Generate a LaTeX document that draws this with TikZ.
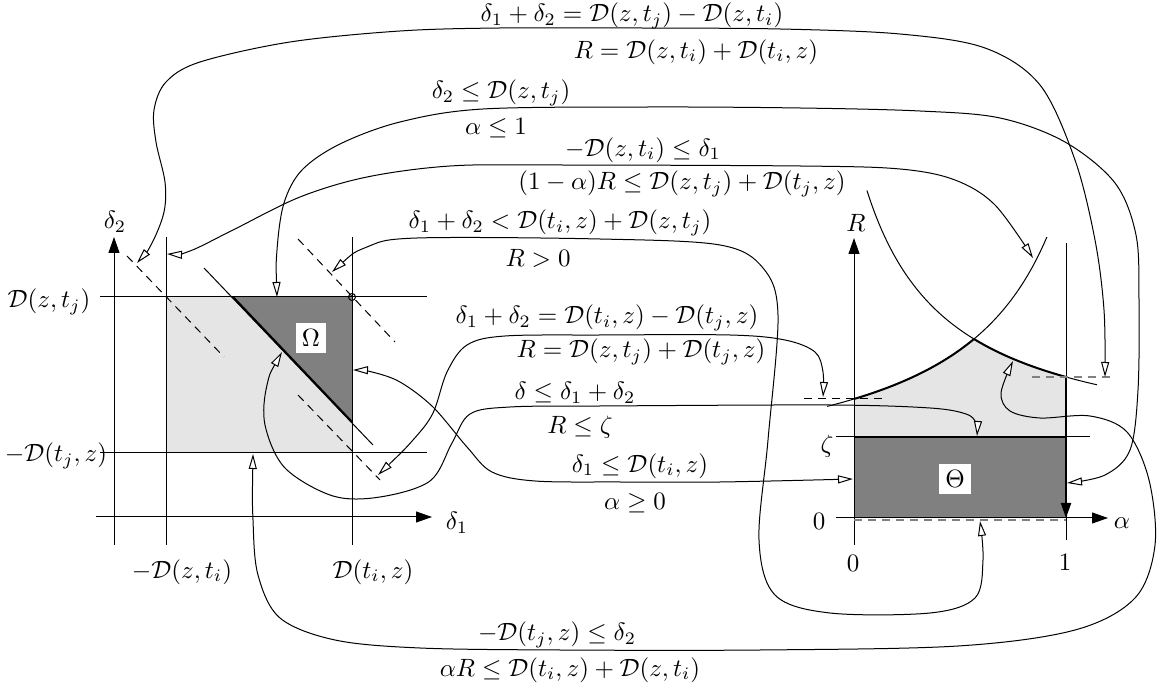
\documentclass[tikz,border=0pt]{standalone}
\usetikzlibrary{arrows.meta}
\begin{document}
\begin{tikzpicture}[x=0.4pt,y=-0.4pt,
  conn/.style={line width=0.4pt, {Triangle[fill=white,length=6pt,width=3.2pt]}-{Triangle[fill=white,length=6pt,width=3.2pt]}},
  axisl/.style={line width=0.4pt, -{Triangle[length=6.4pt,width=4.4pt]}},
  lbl/.style={inner sep=0pt},
  dsh/.style={dash pattern=on 3.2pt off 2.4pt, line width=0.4pt},
  thickl/.style={line width=0.8pt},
  wbox/.style={fill=white, inner sep=2.5pt}
]
\useasboundingbox (0,0) rectangle (1160,691);

% ---------- left plot ----------
\fill[gray!20] (166,297) rectangle (352,453);
\fill[gray] (233,297) -- (352,297) -- (352,422) -- cycle;
\draw (100,297) -- (427,297);
\draw (100,453) -- (427,453);
\draw (166,237) -- (166,545);
\draw (352,237) -- (352,545);
\draw[axisl] (114,545) -- (114,237);
\draw[axisl] (96,517) -- (432,517);
\draw (204,268) -- (373,445);
\draw[thickl] (233,297) -- (352,422);
\draw[dsh] (127,256) -- (224,357);
\draw[dsh] (298,239) -- (395,342);
\draw[dsh] (298,395) -- (380,480);
\draw (352,297) circle[radius=1.4pt];
\node[wbox] (omega) at (311,338) {$\Omega$};
\node[lbl] (d2) at (115,222) {$\delta_2$};
\node[lbl] (d1) at (457,523) {$\delta_1$};
\node[lbl] (yt) at (49,302) {$\mathcal{D}(z,t_j)$};
\node[lbl] (yb) at (56,456) {$-\mathcal{D}(t_j,z)$};
\node[lbl] (xl) at (182,572) {$-\mathcal{D}(z,t_i)$};
\node[lbl] (xr) at (373,572) {$\mathcal{D}(t_i,z)$};

% ---------- right plot ----------
\fill[gray!20] plot[domain=0:0.566, samples=40] ({854+212*\x}, {489.1-127.6/(1.416-\x)})
  -- plot[domain=0.566:1, samples=40] ({854+212*\x}, {456-105.6/(\x+0.3367)})
  -- (1066,437) -- (854,437) -- cycle;
\fill[gray] (854,437) rectangle (1066,518);
\draw plot[domain=-0.127:0.91, samples=80] ({854+212*\x}, {489.1-127.6/(1.416-\x)});
\draw plot[domain=0.061:1.146, samples=80] ({854+212*\x}, {456-105.6/(\x+0.3367)});
\draw[thickl] plot[domain=0:0.566, samples=40] ({854+212*\x}, {489.1-127.6/(1.416-\x)});
\draw[thickl] plot[domain=0.566:1, samples=40] ({854+212*\x}, {456-105.6/(\x+0.3367)});
\draw (1066,243) -- (1066,540);
\draw[line width=0.8pt, -{Triangle[length=6pt,width=4pt]}] (1066,377) -- (1066,518);
\draw (836,437) -- (1090,437);
\draw[thickl] (854,437) -- (1066,437);
\draw[axisl] (854,545) -- (854,238);
\draw[axisl] (836,518) -- (1108,518);
\draw[dsh, gray, line width=0.8pt] (854,520) -- (1066,520);
\draw[dsh] (804,399) -- (888,399);
\draw[dsh, gray, line width=0.8pt] (1032,377) -- (1115,377);
\node[wbox] (theta) at (955,479) {$\Theta$};
\node[lbl] (rl) at (856,223) {$R$};
\node[lbl] (al) at (1122,523) {$\alpha$};
\node[lbl] (zl) at (827,446) {$\zeta$};
\node[lbl] (z0) at (819,521) {$0$};
\node[lbl] (a0) at (853,563) {$0$};
\node[lbl] (a1) at (1065,562) {$1$};

% ---------- labels ----------
\node[lbl] (l1a) at (632,16) {$\delta_1+\delta_2=\mathcal{D}(z,t_j)-\mathcal{D}(z,t_i)$};
\node[lbl] (l1b) at (696,52) {$R=\mathcal{D}(z,t_i)+\mathcal{D}(t_i,z)$};
\node[lbl] (l2a) at (501,93) {$\delta_2\le\mathcal{D}(z,t_j)$};
\node[lbl] (l2b) at (496,128) {$\alpha\le 1$};
\node[lbl] (l3a) at (643,150) {$-\mathcal{D}(z,t_i)\le\delta_1$};
\node[lbl] (l3b) at (682,184) {$(1-\alpha)R\le\mathcal{D}(z,t_j)+\mathcal{D}(t_j,z)$};
\node[lbl] (l4a) at (560,223) {$\delta_1+\delta_2<\mathcal{D}(t_i,z)+\mathcal{D}(z,t_j)$};
\node[lbl] (l4b) at (538,258) {$R>0$};
\node[lbl] (l5a) at (607,318) {$\delta_1+\delta_2=\mathcal{D}(t_i,z)-\mathcal{D}(t_j,z)$};
\node[lbl] (l5b) at (641,352) {$R=\mathcal{D}(z,t_j)+\mathcal{D}(t_j,z)$};
\node[lbl] (l6a) at (575,393) {$\delta\le\delta_1+\delta_2$};
\node[lbl] (l6b) at (580,427) {$R\le\zeta$};
\node[lbl] (l7a) at (640,466) {$\delta_1\le\mathcal{D}(t_i,z)$};
\node[lbl] (l7b) at (635,503) {$\alpha\ge 0$};
\node[lbl] (l8a) at (557,635) {$-\mathcal{D}(t_j,z)\le\delta_2$};
\node[lbl] (l8b) at (570,670) {$\alpha R\le\mathcal{D}(t_i,z)+\mathcal{D}(z,t_i)$};

% ---------- connector end points ----------
\coordinate (c1a) at (137,263); \coordinate (c1b) at (1105,377);
\coordinate (c2a) at (277,297); \coordinate (c2b) at (1067,483);
\coordinate (c3a) at (167,254); \coordinate (c3b) at (1033,258);
\coordinate (c4a) at (332,272); \coordinate (c4b) at (980,521);
\coordinate (c5a) at (378,475); \coordinate (c5b) at (823,397);
\coordinate (c6a) at (282,352); \coordinate (c6b) at (977,436);
\coordinate (c7a) at (353,370); \coordinate (c7b) at (853,479);
\coordinate (c8a) at (253,454); \coordinate (c8b) at (1013,361);

% ---------- connectors ----------
\draw[conn] plot[smooth, tension=0.55] coordinates {(c1a) (152,243) (164,212) (165,182) (156,142) (154,110) (166,82) (200,62) (290,42) (400,31) (500,28) (640,28) (780,29) (900,34) (985,48) (1040,85) (1075,160) (1095,240) (1104,310) (c1b)};
\draw[conn] plot[smooth, tension=0.55] coordinates {(c2a) (277,250) (284,203) (302,170) (340,144) (400,122) (483,109) (650,107) (800,108) (920,111) (1000,118) (1065,142) (1115,183) (1136,235) (1139,300) (1138,390) (1130,450) (1105,475) (c2b)};
\draw[conn] plot[smooth, tension=0.55] coordinates {(c3a) (190,251) (233,230) (300,197) (367,177) (450,166) (550,165) (800,166) (900,169) (955,180) (995,205) (c3b)};
\draw[conn] plot[smooth, tension=0.55] coordinates {(c4a) (367,247) (417,238) (600,239) (720,245) (763,268) (778,315) (768,440) (759,540) (775,595) (830,613) (930,613) (975,598) (983,560) (c4b)};
\draw[conn] plot[smooth, tension=0.55] coordinates {(c5a) (413,440) (433,413) (447,372) (467,345) (505,336) (600,335) (730,335) (785,340) (815,352) (823,372) (c5b)};
\draw[conn] plot[smooth, tension=0.55] coordinates {(c6a) (267,385) (265,425) (285,468) (333,496) (380,497) (430,481) (452,443) (470,414) (510,407) (600,406) (830,405) (930,408) (966,414) (976,423) (c6b)};
\draw[conn] plot[smooth, tension=0.55] coordinates {(c7a) (372,372) (400,382) (433,407) (467,447) (492,472) (535,481) (620,482) (720,482) (c7b)};
\draw[conn] plot[smooth, tension=0.55] coordinates {(c8a) (253,520) (258,575) (280,618) (335,640) (420,648) (560,650) (760,650) (958,646) (1075,630) (1135,598) (1155,545) (1149,480) (1127,432) (1090,416) (1040,418) (1010,411) (1001,393) (c8b)};
\end{tikzpicture}
\end{document}
